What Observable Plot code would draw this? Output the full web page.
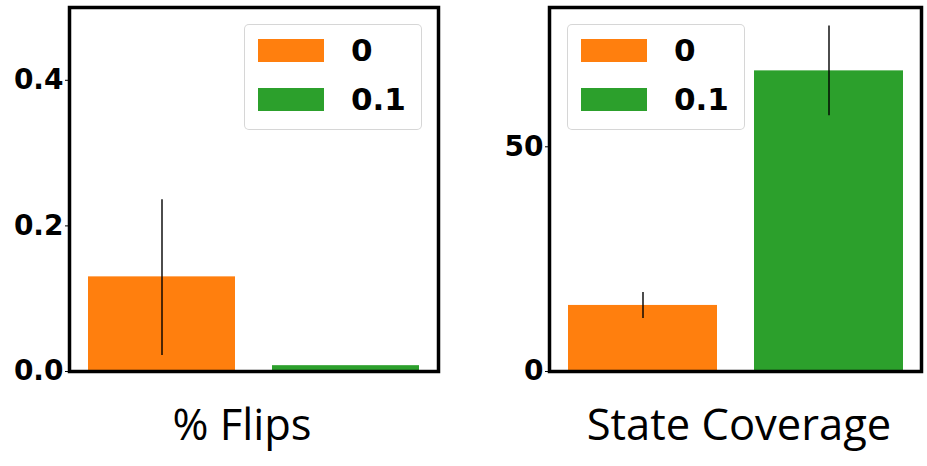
<!DOCTYPE html>
<html>
<head>
<meta charset="utf-8">
<script src="https://cdn.jsdelivr.net/npm/d3@7"></script>
<script src="https://cdn.jsdelivr.net/npm/@observablehq/plot@0.6"></script>
<style>
  html, body { margin: 0; padding: 0; background: #fff; }
  #chart { position: relative; width: 927px; height: 466px; overflow: hidden; }
  .panel { position: absolute; top: 0; }
  .legend { position: absolute; top: 24px; height: 106px; box-sizing: border-box;
            border: 1px solid rgba(204,204,204,0.8); border-radius: 5px; background: rgba(255,255,255,0.8); }
  .legend .sw { position: absolute; left: 13px; width: 66px; height: 23px; }
  .legend .lb { position: absolute; left: 106px; font-family: "DejaVu Sans", sans-serif; font-weight: bold;
                font-size: 31px; line-height: 31px; color: #000; }
</style>
</head>
<body>
<div id="chart"></div>
<script>
// ---- data ----
const categories = ["0", "0.1"];
const barColors = ["#ff7f0e", "#2ca02c"];
const panelTitles = ["% Flips", "State Coverage"];

const flipsMean = [0.13, 0.008];
const flipsLow = [0.022, 0.008];
const flipsHigh = [0.236, 0.008];
const flipsTicks = [0, 0.2, 0.4];
const flipsMax = 0.5;

const coverageMean = [14.7, 66.9];
const coverageLow = [11.8, 56.9];
const coverageHigh = [17.6, 76.9];
const coverageTicks = [0, 50];
const coverageMax = 81;

// ---- build ----
const rows = (mean, low, high) => categories.map((c, i) => ({cat: c, mean: mean[i], low: low[i], high: high[i]}));
const flipsData = rows(flipsMean, flipsLow, flipsHigh);
const coverageData = rows(coverageMean, coverageLow, coverageHigh);

function panel({data, width, marginLeft, marginRight, ymax, ticks, fmt, title, titleDx}) {
  return Plot.plot({
    width, height: 466,
    marginLeft, marginRight, marginTop: 7, marginBottom: 95,
    style: {fontFamily: "DejaVu Sans", background: "transparent", overflow: "visible"},
    x: {domain: categories, paddingInner: 0.2, paddingOuter: 0.1, axis: null},
    y: {domain: [0, ymax], axis: null},
    color: {domain: categories, range: barColors},
    marks: [
      Plot.barY(data, {x: "cat", y: "mean", fill: "cat"}),
      Plot.ruleX(data.filter(d => d.high > d.low), {x: "cat", y1: "low", y2: "high", stroke: "black", strokeWidth: 1.4}),
      Plot.frame({stroke: "black", strokeWidth: 3.5}),
      Plot.axisY({ticks, tickFormat: d3.format(fmt), tickSize: 4, tickPadding: 2, fontSize: 28,
                  fontWeight: "bold", fontFamily: "DejaVu Sans", stroke: "black", fill: "black", label: null}),
      Plot.text([title], {text: d => d, frameAnchor: "bottom", dy: 68, dx: titleDx,
                          fontSize: 43.5, fontFamily: "Open Sans", fill: "black"})
    ]
  });
}

function legend(left) {
  const box = document.createElement("div");
  box.className = "legend";
  box.style.left = left + "px";
  box.style.width = "178px";
  categories.forEach((c, i) => {
    const sw = document.createElement("div");
    sw.className = "sw";
    sw.style.top = (14 + i * 49) + "px";
    sw.style.background = barColors[i];
    const lb = document.createElement("div");
    lb.className = "lb";
    lb.style.top = (10 + i * 49) + "px";
    lb.textContent = c;
    box.appendChild(sw);
    box.appendChild(lb);
  });
  return box;
}

const chart = document.getElementById("chart");

const left = panel({data: flipsData, width: 463, marginLeft: 69, marginRight: 25, ymax: flipsMax,
                    ticks: flipsTicks, fmt: ".1f", title: panelTitles[0], titleDx: -12});
left.classList.add("panel");
left.style.left = "0px";
chart.appendChild(left);

const right = panel({data: coverageData, width: 464, marginLeft: 86, marginRight: 6, ymax: coverageMax,
                     ticks: coverageTicks, fmt: "d", title: panelTitles[1], titleDx: 3.5});
right.classList.add("panel");
right.style.left = "463px";
chart.appendChild(right);

chart.appendChild(legend(244));
chart.appendChild(legend(567));
</script>
</body>
</html>
